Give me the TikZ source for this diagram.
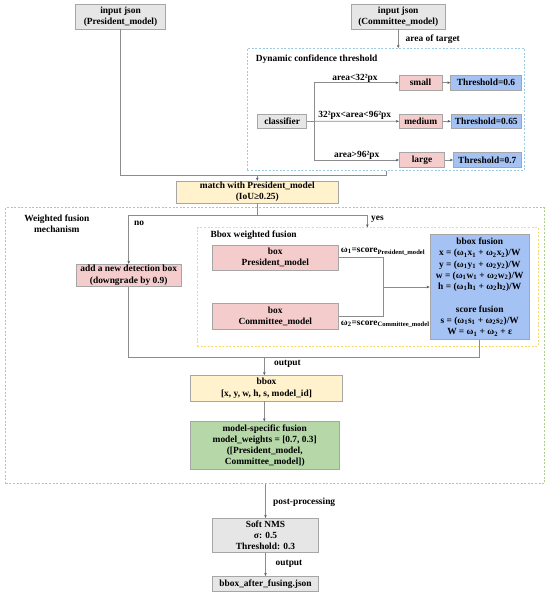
\documentclass[tikz,border=0pt]{standalone}
\usepackage{fontspec}
\setmainfont{Liberation Serif}
\usetikzlibrary{arrows.meta}
\definecolor{bgray}{HTML}{A6A6A6}
\definecolor{lgray}{HTML}{8C8C8C}
\definecolor{fgray}{HTML}{E7E6E6}
\definecolor{fpink}{HTML}{F4CCCC}
\definecolor{fblue}{HTML}{A4C2F4}
\definecolor{fyel}{HTML}{FFF2CC}
\definecolor{fgrn}{HTML}{B6D7A8}
\definecolor{dblue}{HTML}{9DCBE3}
\definecolor{dgrn}{HTML}{A9D08E}
\definecolor{dyel}{HTML}{F5DC6A}
\definecolor{tipc}{HTML}{4A5A70}
\tikzset{
  bx/.style={draw=bgray, line width=0.8pt, align=center, inner sep=1pt},
  gbox/.style={bx, fill=fgray},
  pbox/.style={bx, fill=fpink},
  bbox/.style={bx, fill=fblue},
  ybox/.style={bx, fill=fyel},
  grbox/.style={bx, fill=fgrn},
  cont/.style={line width=0.8pt, dash pattern=on 2pt off 1.6pt, inner sep=0pt},
  ln/.style={draw=lgray, line width=0.8pt},
  arr/.style={ln, -{Stealth[length=3pt,width=2.6pt,color=tipc]}},
  lbl/.style={inner sep=0pt},
}
\begin{document}
\begin{tikzpicture}[x=1pt,y=-1pt,font=\fontsize{9.4}{11.3}\selectfont\bfseries]
\useasboundingbox (0,0) rectangle (550,596);
% containers
\node[cont, draw=dblue, minimum width=277pt, minimum height=122pt] (dyn) at (385.8,109.3) {};
\node[cont, draw=dgrn, minimum width=538.6pt, minimum height=276pt] (wf) at (275,345.7) {};
\node[cont, draw=dyel, minimum width=341.3pt, minimum height=118.3pt] (yb) at (367.65,286.85) {};
% nodes
\node[gbox, minimum width=89.6pt, minimum height=24.7pt] (pin) at (120.5,16.7) {input json\\(President\_model)};
\node[gbox, minimum width=93.7pt, minimum height=24.7pt] (cin) at (398.2,16.7) {input json\\(Committee\_model)};
\node[lbl, anchor=west] (lat) at (405.5,39) {area of target};
\node[lbl, anchor=west] (ldyn) at (255.7,59) {Dynamic confidence threshold};
\node[gbox, minimum width=49pt, minimum height=14.3pt] (cls) at (282.2,121.2) {classifier};
\node[pbox, minimum width=43pt, minimum height=14.7pt] (small) at (420.5,82.7) {small};
\node[bbox, minimum width=70.6pt, minimum height=14.7pt] (t1) at (486,82.7) {Threshold=0.6};
\node[pbox, minimum width=43pt, minimum height=14.7pt] (med) at (420.8,121.3) {medium};
\node[bbox, minimum width=70.3pt, minimum height=14.7pt] (t2) at (486.2,121.3) {Threshold=0.65};
\node[pbox, minimum width=45.4pt, minimum height=14.7pt] (lrg) at (422,160) {large};
\node[bbox, minimum width=68pt, minimum height=14.7pt] (t3) at (487.3,160) {Threshold=0.7};
\node[lbl] (la1) at (355,78.7) {area<32²px};
\node[lbl] (la2) at (354.7,115.3) {32²px<area<96²px};
\node[lbl] (la3) at (356.7,155) {area>96²px};
\node[ybox, minimum width=162pt, minimum height=20.6pt] (match) at (257.3,192) {match with President\_model\\(IoU≥0.25)};
\node[lbl, align=center] (lwf) at (56.8,224) {Weighted fusion\\mechanism};
\node[lbl, anchor=west] (lno) at (134,223.3) {no};
\node[lbl, anchor=west] (lyes) at (371,219.3) {yes};
\node[lbl, anchor=west] (lbw) at (210.3,235.3) {Bbox weighted fusion};
\node[pbox, minimum width=105.3pt, minimum height=20.3pt] (add) at (128.7,275.2) {add a new detection box\\(downgrade by 0.9)};
\node[pbox, minimum width=126pt, minimum height=25pt] (bp) at (275.3,257.5) {box\\President\_model};
\node[pbox, minimum width=126pt, minimum height=25.6pt] (bc) at (275.3,316.5) {box\\Committee\_model};
\node[lbl, anchor=west] (lw1) at (340.7,251.7) {ω\textsubscript{1}=score\textsubscript{President\_model}};
\node[lbl, anchor=west] (lw2) at (340.7,324) {ω\textsubscript{2}=score\textsubscript{Committee\_model}};
\node[bbox, minimum width=99.3pt, minimum height=105.4pt] (fu) at (479.7,287) {bbox fusion\\
x = (ω\textsubscript{1}x\textsubscript{1} + ω\textsubscript{2}x\textsubscript{2})/W\\
y = (ω\textsubscript{1}y\textsubscript{1} + ω\textsubscript{2}y\textsubscript{2})/W\\
w = (ω\textsubscript{1}w\textsubscript{1} + ω\textsubscript{2}w\textsubscript{2})/W\\
h = (ω\textsubscript{1}h\textsubscript{1} + ω\textsubscript{2}h\textsubscript{2})/W\\[11.3pt]
score fusion\\
s = (ω\textsubscript{1}s\textsubscript{1} + ω\textsubscript{2}s\textsubscript{2})/W\\
W = ω\textsubscript{1} + ω\textsubscript{2} + ε};
\node[lbl, anchor=west] (lout1) at (274,363.5) {output};
\node[ybox, minimum width=152.5pt, minimum height=25.5pt] (bb) at (266.5,388.2) {bbox\\{[x, y, w, h, s, model\_id]}};
\node[grbox, minimum width=148.7pt, minimum height=48pt] (grn) at (264.7,445.7) {model-specific fusion\\model\_weights = [0.7, 0.3]\\([President\_model,\\Committee\_model])};
\node[lbl, anchor=west] (lpp) at (273,502.7) {post-processing};
\node[gbox, minimum width=105.6pt, minimum height=34pt] (nms) at (265.5,535.3) {Soft NMS\\σ: 0.5\\Threshold: 0.3};
\node[lbl, anchor=west] (lout2) at (275.5,563.7) {output};
\node[gbox, minimum width=105.6pt, minimum height=15pt] (out) at (265.5,583.8) {bbox\_after\_fusing.json};
% connectors
\coordinate (j2) at (386,175.7);
\draw[ln] (pin.south) |- (j2) -- (j2 |- dyn.south);
\draw[arr] (match.north |- j2) -- (match.north);
\draw[arr] (cin.south) -- (cin.south |- dyn.north);
\coordinate (br) at (314,121.2);
\draw[ln] (cls.east) -- (br);
\draw[arr] (br) |- (small.west);
\draw[arr] (br) -- (med.west);
\draw[arr] (br) |- (lrg.west);
\draw[arr] (small.east) -- (t1.west);
\draw[arr] (med.east) -- (t2.west);
\draw[arr] (lrg.east) -- (t3.west);
\coordinate (m1) at (257.3,215);
\coordinate (nob) at (128.7,215);
\coordinate (yesb) at (367.3,215);
\draw[ln] (match.south) -- (m1);
\draw[arr] (m1) -- (nob) -- (add.north);
\draw[arr] (m1) -- (yesb) -- (yesb |- yb.north);
\coordinate (fa) at (383.7,257.5);
\coordinate (fb) at (383.7,316.5);
\draw[ln] (bp.east) -- (fa) -- (fb) -- (bc.east);
\draw[arr] (fa |- fu.west) -- (fu.west);
\coordinate (ob) at (128.7,357.3);
\coordinate (oc) at (479.7,357.3);
\coordinate (om) at (264.3,357.3);
\draw[ln] (add.south) -- (ob) -- (oc) -- (fu.south);
\draw[arr] (om) -- (om |- bb.north);
\draw[arr] (om |- bb.south) -- (om |- grn.north);
\draw[arr] (nms.north |- wf.south) -- (nms.north);
\draw[arr] (nms.south) -- (out.north);
\end{tikzpicture}
\end{document}
